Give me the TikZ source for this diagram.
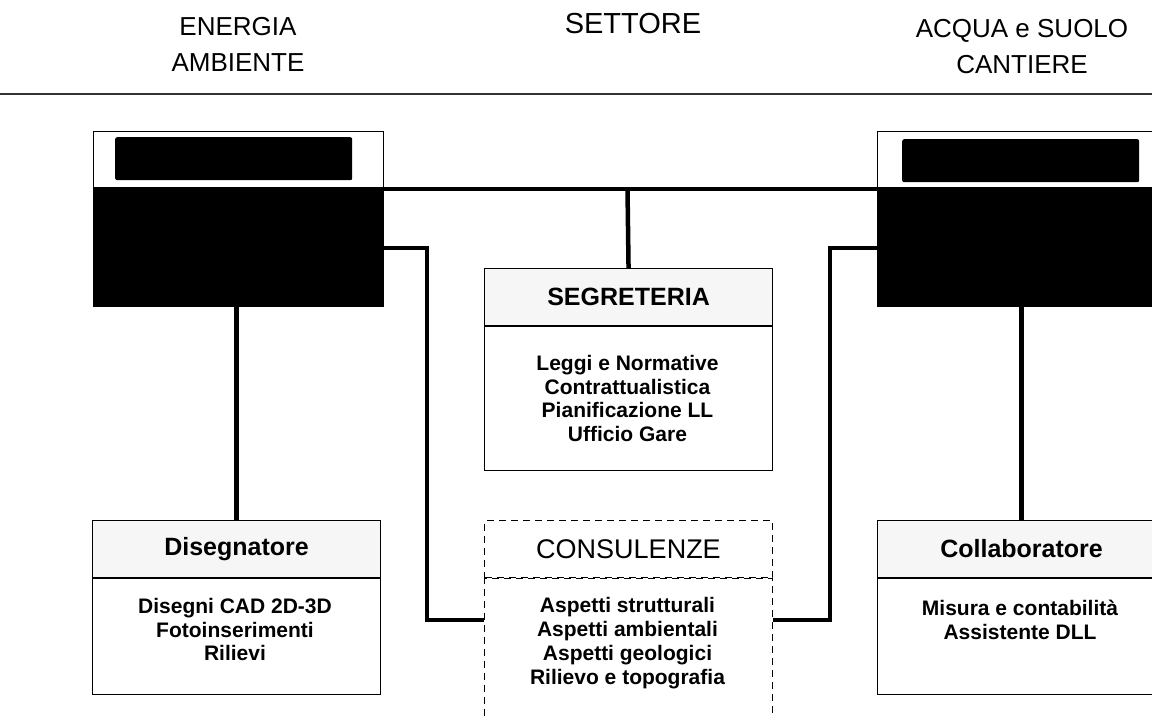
\documentclass[tikz,border=0pt]{standalone}
\usepackage{fontspec}
\setmainfont{Liberation Sans}
\begin{document}
\begin{tikzpicture}[x=1pt,y=-1pt,
  toptext/.style={inner sep=0pt, align=center, anchor=north, font=\fontsize{26}{36}\selectfont},
  bigbox/.style={draw=black, line width=1pt, fill=black, minimum width=290pt, minimum height=175pt, anchor=north west, inner sep=0pt},
  band/.style={draw=black, line width=1pt, fill=white, minimum width=290pt, minimum height=56pt, anchor=north west, inner sep=0pt},
  bar/.style={fill=black, rounded corners=2pt, minimum width=237pt, minimum height=43pt, anchor=north west, inner sep=0pt},
  headbox/.style={draw=black, line width=1.1pt, fill=gray!7, minimum width=288pt, minimum height=57pt, anchor=north west, inner sep=0pt},
  bodybox/.style={draw=black, line width=1.1pt, fill=white, minimum width=288pt, anchor=north, inner sep=0pt},
  dashbox/.style={draw=black, line width=1pt, dash pattern=on 7pt off 5pt, minimum width=288pt, inner sep=0pt},
  titlefont/.style={font=\fontsize{25}{30}\selectfont\bfseries},
  items/.style={inner sep=0pt, align=center, font=\fontsize{21}{23.8}\selectfont\bfseries},
  conn/.style={line width=4.5pt, black}]
\useasboundingbox (0,0) rectangle (1152,716);
\fill[white] (0,0) rectangle (1152,716);
\clip (0,0) rectangle (1152,716);

% header
\node[toptext] (hleft) at (238,17) {ENERGIA\\AMBIENTE};
\node[toptext, font=\fontsize{29}{34}\selectfont] (hmid) at (633,13) {SETTORE};
\node[toptext] (hright) at (1022,19) {ACQUA e SUOLO\\CANTIERE};
\draw[line width=1.8pt, black!80] (0,94) -- (1152,94);

% big black boxes
\node[bigbox] (lbox) at (93,131) {};
\node[band] (lband) at (93,131) {};
\node[bar] (lbar) at (115,137) {};
\node[bigbox] (rbox) at (877,131) {};
\node[band] (rband) at (877,131) {};
\node[bar] (rbar) at (902,139) {};

% segreteria
\node[headbox, titlefont] (seg) at (484,268) {SEGRETERIA};
\node[bodybox, minimum height=144pt] (segb) at (seg.south) {};
\node[items] (segt) at (627.5,398.5) {Leggi e Normative\\Contrattualistica\\Pianificazione LL\\Ufficio Gare};

% disegnatore
\node[headbox, titlefont] (dis) at (92,520) {Disegnatore};
\node[bodybox, minimum height=116pt] (disb) at (dis.south) {};
\node[items] (dist) at (235,629.5) {Disegni CAD 2D-3D\\Fotoinserimenti\\Rilievi};

% consulenze
\node[dashbox, minimum height=57pt, anchor=north west, font=\fontsize{27}{32}\selectfont] (cons) at (484,520) {CONSULENZE};
\node[dashbox, minimum height=170pt, anchor=north] (consb) at (cons.south) {};
\node[items] (const) at (627.5,643) {Aspetti strutturali\\Aspetti ambientali\\Aspetti geologici\\Rilievo e topografia};

% collaboratore
\node[headbox, titlefont] (col) at (877,520) {Collaboratore};
\node[bodybox, minimum height=116pt] (colb) at (col.south) {};
\node[items] (colt) at (1020,619.5) {Misura e contabilità\\Assistente DLL};

% connectors
\coordinate (top) at (627.5,189);
\draw[conn] (lbox.east |- top) -- (rbox.west |- top);
\draw[conn] (top) -- (seg.north);
\coordinate (lk) at (427,248);
\coordinate (lj) at (427,620);
\draw[conn] (lbox.east |- lk) -- (lk) -- (lj) -- (cons.west |- lj);
\coordinate (rk) at (830,248);
\coordinate (rj) at (830,620);
\draw[conn] (rbox.west |- rk) -- (rk) -- (rj) -- (cons.east |- rj);
\draw[conn] (lbox.south -| dis.north) -- (dis.north);
\draw[conn] (rbox.south -| col.north) -- (col.north);
\end{tikzpicture}
\end{document}
